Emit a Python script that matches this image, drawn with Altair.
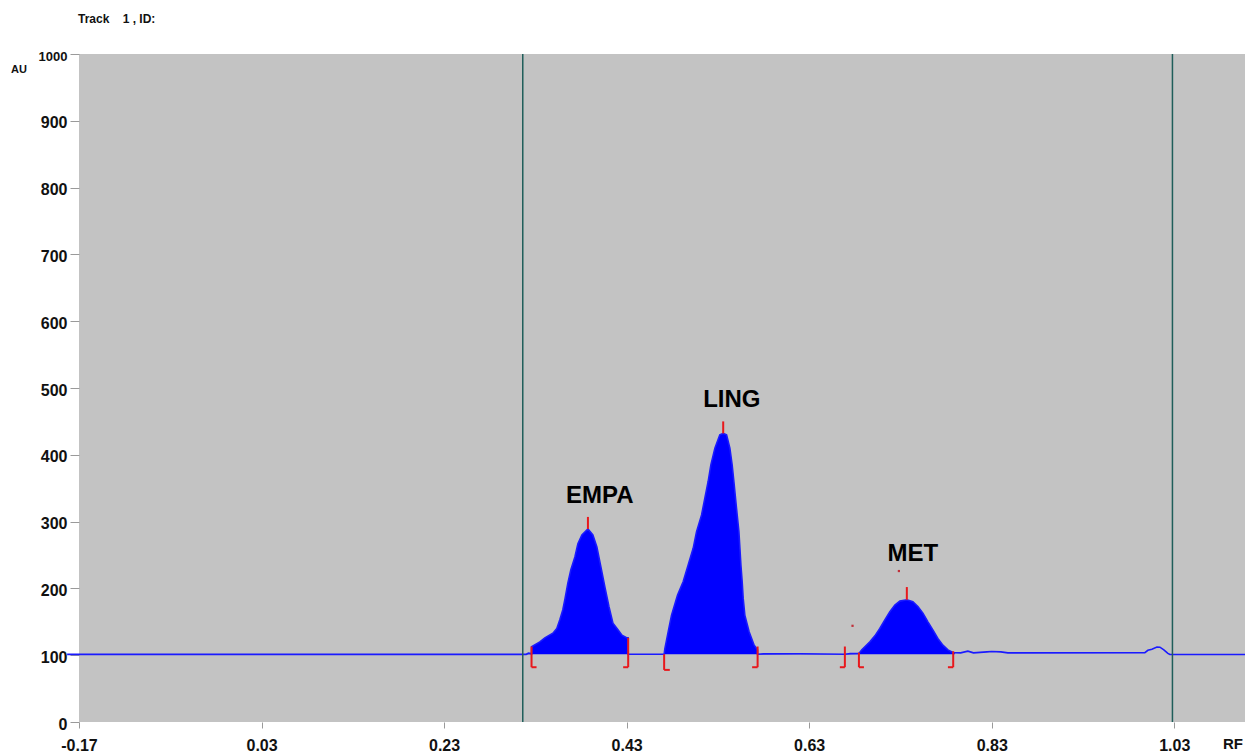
import altair as alt
import pandas as pd

# ---------------- data ----------------
lead_rf = [-0.183, 0.3200, 0.3225, 0.3250, 0.3257]
lead_au = [101.3, 101.3, 103.0, 102.5, 101.5]

empa_rf = [0.3258, 0.3259, 0.3349, 0.3404, 0.3492, 0.3535, 0.3568, 0.3601, 0.3623,
           0.3656, 0.3689, 0.3733, 0.3766, 0.3810, 0.3876, 0.3930, 0.3974, 0.4018,
           0.4062, 0.4106, 0.4150, 0.4205, 0.4249, 0.4304, 0.4316, 0.4317]
empa_au = [101.5, 112.7, 120, 126, 133, 140, 153, 168, 183, 208, 228, 247, 267, 280,
           289, 280, 262, 232, 202, 173, 148, 138, 130, 126, 126, 101.5]

gap1_rf = [0.4318, 0.4710]
gap1_au = [101.5, 101.5]

ling_rf = [0.4711, 0.4719, 0.4755, 0.4792, 0.4836, 0.4858, 0.4919, 0.4974, 0.5029,
           0.5066, 0.5121, 0.5157, 0.5193, 0.5223, 0.5267, 0.5321, 0.5358, 0.5395,
           0.5431, 0.5456, 0.5475, 0.5493, 0.5511, 0.5530, 0.5541, 0.5552, 0.5566,
           0.5577, 0.5595, 0.5642, 0.5697, 0.5724, 0.5734, 0.5735]
ling_au = [101.5, 110, 135, 160, 180, 190, 210, 235, 260, 285, 310, 335, 360, 385,
           410, 430, 432, 430, 410, 385, 360, 335, 310, 285, 260, 235, 210, 185, 160,
           135, 115, 110, 108, 101.5]

gap2_rf = [0.5736, 0.5800, 0.6200, 0.6691, 0.6750, 0.6844]
gap2_au = [101.5, 102.0, 102.2, 101.5, 102.3, 102.5]

met_rf = [0.6845, 0.6877, 0.6921, 0.6965, 0.7020, 0.7074, 0.7129, 0.7184, 0.7239,
          0.7294, 0.7370, 0.7436, 0.7491, 0.7546, 0.7601, 0.7655, 0.7710, 0.7765,
          0.7820, 0.7875, 0.7878]
met_au = [102.5, 108, 114, 120, 129, 140, 153, 165, 175, 181, 183, 180, 173, 163,
          150, 138, 125, 115, 108, 104, 104]

tail_rf = [0.7896, 0.7960, 0.8039, 0.8100, 0.8247, 0.8300, 0.8400, 0.8477,
           0.9978, 1.0011, 1.0055, 1.0110, 1.0143, 1.0186, 1.0230, 1.0252, 1.1075]
tail_au = [103.7, 103.5, 106, 103.5, 105, 105.5, 105, 103.5, 103.7, 107.3, 109,
           112.3, 112, 108, 102.8, 101, 101]

baseline_au = 101.5

# peak apex markers
apex_rf = [0.3876, 0.5358, 0.7370]
apex_lo = [289, 432, 183]
apex_hi = [307, 450, 202]

# integration brackets: vertical stroke and foot
brk_rf = [0.3258, 0.4317, 0.4711, 0.5735, 0.6691, 0.6845, 0.7878]
brk_top = [113, 126, 101.5, 113, 113, 104, 106]
brk_bot = [82, 82, 78, 82, 82, 82, 82]
brk_foot = [0.3313, 0.4262, 0.4773, 0.5675, 0.6636, 0.6900, 0.7820]

# stray red dots
dot_rf = [0.6775, 0.7283]
dot_au = [144, 226]

# vertical cursor lines
cursor_rf = [0.3162, 1.028]

# peak names
peak_names = ["EMPA", "LING", "MET"]
name_rf = [0.4006, 0.5453, 0.7436]
name_au = [327.8, 471.6, 241.0]

x_ticks = [-0.17, 0.03, 0.23, 0.43, 0.63, 0.83, 1.03]
y_ticks = [0, 100, 200, 300, 400, 500, 600, 700, 800, 900, 1000]

# ---------------- build tables ----------------
rows = []
i = 0
for seg, rfs, aus in [("lead", lead_rf, lead_au), ("EMPA", empa_rf, empa_au),
                      ("gap1", gap1_rf, gap1_au), ("LING", ling_rf, ling_au),
                      ("gap2", gap2_rf, gap2_au), ("MET", met_rf, met_au),
                      ("tail", tail_rf, tail_au)]:
    for r, a in zip(rfs, aus):
        rows.append({"i": i, "seg": seg, "rf": r, "au": a, "base": baseline_au})
        i += 1
trace = pd.DataFrame(rows)
fill = trace[(trace["rf"] >= 0.3) & (trace["rf"] <= 0.79)].reset_index(drop=True)

apex = pd.DataFrame({"rf": apex_rf, "lo": apex_lo, "hi": apex_hi})
brk = pd.DataFrame({"rf": brk_rf, "top": brk_top, "bot": brk_bot, "foot": brk_foot})
dots = pd.DataFrame({"rf": dot_rf, "au": dot_au})
curs = pd.DataFrame({"rf": cursor_rf})
names = pd.DataFrame({"name": peak_names, "rf": name_rf, "au": name_au})

XS = alt.Scale(domain=[-0.17, 1.1075], nice=False, zero=False)
YS = alt.Scale(domain=[0, 1000], nice=False, zero=False)

FONT = "Liberation Sans"
RED = "#e8181c"

x_axis = alt.Axis(values=x_ticks, title=None, grid=False, domain=False,
                  tickColor="#9a9a9a", tickSize=6, labelPadding=9,
                  labelFont=FONT, labelFontSize=16, labelFontWeight="bold",
                  labelColor="#111111", labelFlush=False,
                  labelExpr="(datum.value < 0 ? '-' : '') + format(abs(datum.value), '.2f')")
y_axis = alt.Axis(values=y_ticks, title=None, grid=False, domain=False, format="d",
                  tickColor="#9a9a9a", tickSize=9, labelPadding=3,
                  labelFont=FONT, labelFontWeight="bold", labelColor="#111111",
                  labelFontSize={"condition": {"test": "datum.value == 1000", "value": 13}, "value": 16},
                  labelOffset=2, labelFlush=False)


def X(field):
    return alt.X(field, type="quantitative", scale=XS, axis=x_axis)


def Y(field):
    return alt.Y(field, type="quantitative", scale=YS, axis=y_axis, stack=None)


area = alt.Chart(fill).mark_area(color="#0000ff", opacity=1).encode(
    x=X("rf"), y=Y("au"), y2="base:Q",
)

line = alt.Chart(trace).mark_line(color="#1a1aff", strokeWidth=1.6).encode(
    x=X("rf"), y=Y("au"), order="i:Q",
)

cursors = alt.Chart(curs).mark_rule(color="#1f5e5a", strokeWidth=1.5).encode(
    x=X("rf"),
)

apex_marks = alt.Chart(apex).mark_rule(color=RED, strokeWidth=2).encode(
    x=X("rf"), y=Y("lo"), y2="hi:Q",
)

brk_v = alt.Chart(brk).mark_rule(color=RED, strokeWidth=2).encode(
    x=X("rf"), y=Y("top"), y2="bot:Q",
)
brk_h = alt.Chart(brk).mark_rule(color=RED, strokeWidth=2).encode(
    x=X("rf"), x2="foot:Q", y=Y("bot"),
)

dot_marks = alt.Chart(dots).mark_square(color="#c0303a", size=5, opacity=1).encode(
    x=X("rf"), y=Y("au"),
)

name_marks = alt.Chart(names).mark_text(font=FONT, fontSize=24, fontWeight="bold",
                                         color="#000000", baseline="alphabetic",
                                         align="center").encode(
    x=X("rf"), y=Y("au"), text="name:N",
)

au_text = alt.Chart(pd.DataFrame({"t": ["AU"]})).mark_text(
    font=FONT, fontSize=11, fontWeight="bold", color="#111111", align="center",
    baseline="middle").encode(x=alt.value(-60), y=alt.value(16), text="t:N")

rf_text = alt.Chart(pd.DataFrame({"t": ["RF"]})).mark_text(
    font=FONT, fontSize=15, fontWeight="bold", color="#111111", align="center",
    baseline="alphabetic").encode(x=alt.value(1154), y=alt.value(695), text="t:N")

track_text = alt.Chart(pd.DataFrame({"t": ["Track\u00a0\u00a0\u00a0 1 , ID:"]})).mark_text(
    font=FONT, fontSize=12, fontWeight="bold", color="#111111", align="left",
    baseline="middle").encode(x=alt.value(-1), y=alt.value(-35), text="t:N")

chart = alt.layer(
    area, line, cursors, apex_marks, brk_v, brk_h, dot_marks, name_marks,
    au_text, rf_text, track_text,
).properties(
    width=1166, height=668,
    padding={"left": 79, "top": 54, "right": 0, "bottom": 32},
    autosize=alt.AutoSizeParams(type="none"),
    background="#ffffff",
).configure_view(fill="#c3c3c3", strokeWidth=0)

chart.save("out.html", embed_options={"renderer": "svg", "actions": False})
